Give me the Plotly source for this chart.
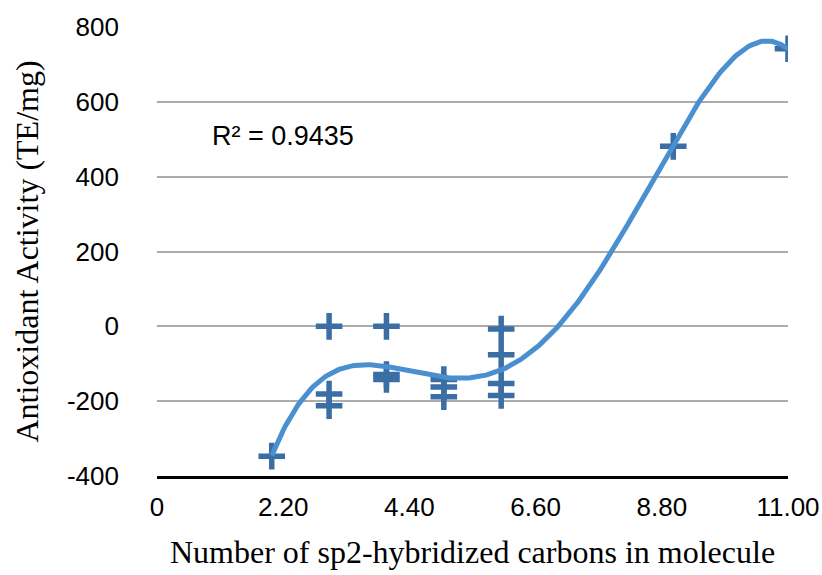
import numpy as np
import plotly.graph_objects as go

# Data
x_vals = [2, 3, 3, 3, 4, 4, 4, 5, 5, 5, 6, 6, 6, 6, 9, 11]
y_vals = [-347, 0, -181, -212, 0, -129, -142, -142, -162, -188, -7, -76, -153, -185, 481, 742]
x_ticks = [0, 2.2, 4.4, 6.6, 8.8, 11.0]
x_tick_text = ["0", "2.20", "4.40", "6.60", "8.80", "11.00"]
y_ticks = [-400, -200, 0, 200, 400, 600, 800]
y_tick_text = ["-400", "-200", "0", "200", "400", "600", "800"]
r2_label = "R² = 0.9435"
trend_order = 4

# Polynomial trendline (order 4) fitted to the data, drawn over the data range
coef = np.polyfit(x_vals, y_vals, trend_order)
x_fit = np.linspace(min(x_vals), max(x_vals), 300)
y_fit = np.polyval(coef, x_fit)

sans = "Liberation Sans, Arial, Helvetica, sans-serif"
serif = "Liberation Serif, Times New Roman, serif"

fig = go.Figure()
fig.add_trace(go.Scatter(
    x=x_vals, y=y_vals, mode="markers",
    marker=dict(symbol="cross-thin", size=19, line=dict(width=5.5, color="#3b6ea5")),
    hoverinfo="x+y"))
fig.add_trace(go.Scatter(
    x=x_fit, y=y_fit, mode="lines",
    line=dict(color="#4a8fd0", width=5), hoverinfo="skip"))

fig.add_annotation(text=r2_label, x=0.084, y=0.757, xref="paper", yref="paper",
                   xanchor="left", yanchor="middle", showarrow=False,
                   font=dict(family=sans, size=27, color="black"))

fig.update_layout(
    width=822, height=575,
    margin=dict(l=157, r=34, t=26.5, b=98.5),
    showlegend=False,
    plot_bgcolor="white", paper_bgcolor="white",
)
fig.update_xaxes(
    range=[0, 11], tickmode="array", tickvals=x_ticks, ticktext=x_tick_text,
    showgrid=False, zeroline=False, showline=True, linecolor="black", linewidth=3,
    ticks="", ticklabelstandoff=6, automargin=False,
    tickfont=dict(family=sans, size=26, color="black"),
    title=dict(text="Number of sp2-hybridized carbons in molecule", standoff=20,
               font=dict(family=serif, size=32, color="black")),
)
fig.update_yaxes(
    range=[-400, 800], tickmode="array", tickvals=y_ticks, ticktext=y_tick_text,
    showgrid=True, gridcolor="#ababab", gridwidth=2, zeroline=False,
    showline=False, ticks="", ticklabelstandoff=37, automargin=False,
    tickfont=dict(family=sans, size=26, color="black"),
    title=dict(text="Antioxidant Activity (TE/mg)", standoff=18,
               font=dict(family=serif, size=32, color="black")),
)
# remove the page's default body margin so the 822x575 figure fills the window
fig.write_html("out.html",
               config={"displayModeBar": False},
               post_script="document.body.style.margin='0';document.body.style.overflow='hidden';")
